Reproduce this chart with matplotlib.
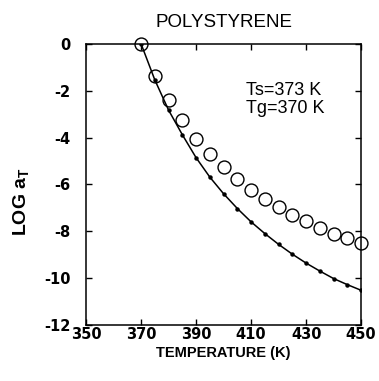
import matplotlib.pyplot as plt

plt.rcParams["font.family"] = ["Liberation Sans", "DejaVu Sans"]
plt.rcParams["mathtext.fontset"] = "custom"
plt.rcParams["mathtext.rm"] = "Liberation Sans:bold"
plt.rcParams["mathtext.it"] = "Liberation Sans:bold"
plt.rcParams["mathtext.bf"] = "Liberation Sans:bold"

# temperatures (K) of the measured points
temps = [370, 375, 380, 385, 390, 395, 400, 405, 410, 415,
         420, 425, 430, 435, 440, 445, 450]
# open circles: shift factors referenced to Ts
log_at_ts = [0.0, -1.36, -2.39, -3.24, -4.07, -4.71, -5.25, -5.78, -6.24,
             -6.64, -6.97, -7.32, -7.57, -7.85, -8.11, -8.28, -8.52]
# solid line with small dots: curve referenced to Tg
log_at_tg = [0.0, -1.54, -2.83, -3.88, -4.86, -5.69, -6.40, -7.03, -7.60,
             -8.10, -8.56, -8.98, -9.36, -9.70, -10.02, -10.28, -10.52]

xticks = [350, 370, 390, 410, 430, 450]
yticks = [0, -2, -4, -6, -8, -10, -12]

fig = plt.figure(figsize=(3.79, 3.81), dpi=100)
ax = fig.add_axes([0.227, 0.147, 0.726, 0.738])

ax.plot(temps, log_at_tg, color="black", lw=1.1, marker="o", ms=2.2,
        mfc="black", mec="black", zorder=2)
ax.plot(temps, log_at_ts, ls="none", marker="o", ms=9.3, mfc="none",
        mec="black", mew=1.0, zorder=3, clip_on=False)

ax.set_xlim(350, 450)
ax.set_ylim(-12, 0)
ax.set_xticks(xticks)
ax.set_yticks(yticks)
ax.set_xticklabels([str(t) for t in xticks], fontweight="bold",
                   fontsize=10.5, family="DejaVu Sans")
ax.set_yticklabels([str(t) for t in yticks], fontweight="bold",
                   fontsize=10.5, family="DejaVu Sans")
ax.tick_params(direction="in", length=4, width=1, top=True, right=True)
ax.tick_params(axis="x", pad=1.5)
ax.tick_params(axis="y", pad=11)
for s in ax.spines.values():
    s.set_linewidth(1.1)

ax.set_title("POLYSTYRENE", fontsize=13.5, pad=12)
ax.set_xlabel("TEMPERATURE (K)", fontsize=10.5, fontweight="bold", labelpad=3)
ax.set_ylabel(r"LOG $\mathbf{a}_{\mathbf{T}}$", fontsize=14, fontweight="bold")
ax.yaxis.set_label_coords(-0.2, 0.44)

ax.text(408.2, -2.0, "Ts=373 K", fontsize=13, ha="left", va="center")
ax.text(408.2, -2.75, "Tg=370 K", fontsize=13, ha="left", va="center")

fig.savefig("out.png", dpi=100)
